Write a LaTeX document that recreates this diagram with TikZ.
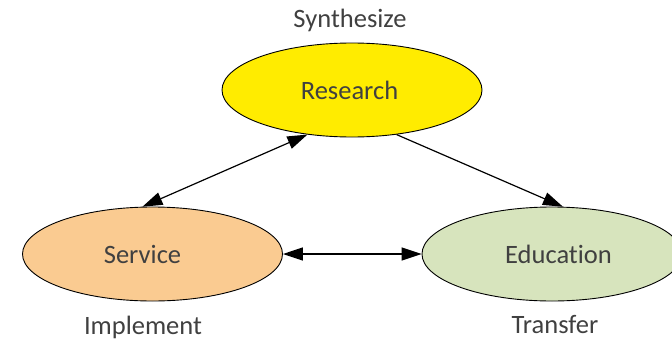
\documentclass[tikz,border=0pt]{standalone}
\usepackage{fontspec}
\setmainfont{Carlito}[Ligatures=NoCommon]
\usetikzlibrary{shapes.geometric,arrows.meta}

\definecolor{txtgray}{RGB}{64,64,64}
\definecolor{resfill}{RGB}{255,236,0}
\definecolor{svcfill}{RGB}{250,203,145}
\definecolor{edufill}{RGB}{215,228,189}

\tikzset{
  area/.style={ellipse, draw=black, line width=0.9pt,
    minimum width=260pt, minimum height=94pt, inner sep=0pt,
    font=\fontsize{26.5}{31}\selectfont, text=txtgray},
  caption/.style={font=\fontsize{26.5}{31}\selectfont, text=txtgray, inner sep=0pt},
  link/.style={line width=1.2pt, draw=black},
  tip/.style={-{Triangle[length=20pt,width=13pt]}},
  bothtips/.style={{Triangle[length=20pt,width=13pt]}-{Triangle[length=20pt,width=13pt]}}
}

\begin{document}
\begin{tikzpicture}[x=1pt,y=-1pt]
  \useasboundingbox (0,0) rectangle (672,340);
  \clip (0,0) rectangle (672,340);

  % the three activity areas (labels nudged off centre as set)
  \node[area, fill=resfill] (research) at (352,90) {\hspace*{-5pt}Research};
  \node[area, fill=svcfill] (service) at (152.5,254) {\hspace*{-20pt}Service};
  \node[area, fill=edufill] (education) at (552,254) {\hspace*{13pt}Education};

  % their roles
  \node[caption] (synth) at (350,20) {Synthesize};
  \node[caption] (impl) at (143,327) {Implement};
  \node[caption] (trans) at (555,325) {Transfer};

  % flows between the areas
  \draw[link, bothtips] (research.225) -- (service.102);
  \draw[link, tip] (research.315) -- (education.77);
  \draw[link, bothtips] (service.east) -- (education.west);
\end{tikzpicture}
\end{document}
